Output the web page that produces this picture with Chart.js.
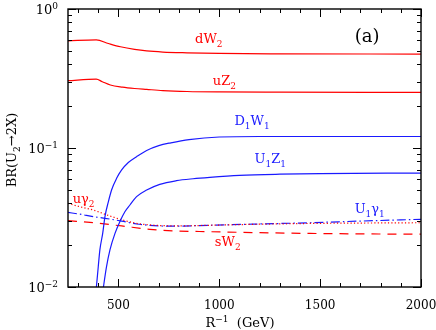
<!DOCTYPE html>
<html>
<head>
<meta charset="utf-8">
<script src="https://cdn.jsdelivr.net/npm/chart.js@4/dist/chart.umd.min.js"></script>
<style>
  html, body { margin: 0; padding: 0; background: #fff; }
  #wrap { width: 436px; height: 330px; }
</style>
</head>
<body>
<div id="wrap"><canvas id="br"></canvas></div>
<script>
// R^-1 (GeV) and BR values
const dW2_x = [250, 390, 450, 510, 580, 640, 720, 840, 1000, 1300, 2000];
const dW2_y = [0.590, 0.600, 0.565, 0.535, 0.512, 0.499, 0.490, 0.484, 0.479, 0.476, 0.474];

const uZ2_x = [250, 390, 420, 460, 520, 580, 640, 720, 840, 1000, 1300, 2000];
const uZ2_y = [0.305, 0.313, 0.300, 0.284, 0.274, 0.268, 0.264, 0.259, 0.255, 0.253, 0.252, 0.251];

const D1W1_x = [388, 400, 408, 422, 433, 450, 466, 491, 516, 549, 590, 640, 700, 760, 850, 1000, 1200, 1500, 2000];
const D1W1_y = [0.009, 0.014, 0.0185, 0.0243, 0.032, 0.041, 0.0499, 0.0605, 0.0695, 0.0786, 0.0866, 0.096, 0.104, 0.109, 0.115, 0.120, 0.121, 0.121, 0.121];

const U1Z1_x = [421, 441, 458, 483, 507, 532, 557, 590, 640, 705, 788, 870, 953, 1100, 1300, 1500, 2000];
const U1Z1_y = [0.009, 0.014, 0.0185, 0.0243, 0.0295, 0.0348, 0.0389, 0.0447, 0.0499, 0.0548, 0.0582, 0.0601, 0.0615, 0.0635, 0.0648, 0.0655, 0.066];

const uy2_x = [250, 309, 375, 433, 490, 540, 590, 650, 700, 800, 950, 1200, 1500, 2000];
const uy2_y = [0.040, 0.0378, 0.0358, 0.0334, 0.0313, 0.0298, 0.0287, 0.0280, 0.0277, 0.0275, 0.0278, 0.0283, 0.0287, 0.029];

const U1y1_x = [250, 309, 375, 433, 516, 590, 705, 790, 950, 1200, 1450, 1700, 2000];
const U1y1_y = [0.0344, 0.0334, 0.0321, 0.0312, 0.0298, 0.0284, 0.0275, 0.0274, 0.0278, 0.0284, 0.029, 0.0298, 0.0307];

const sW2_x = [250, 375, 516, 656, 788, 950, 1200, 1450, 1700, 2000];
const sW2_y = [0.030, 0.029, 0.0275, 0.026, 0.0253, 0.025, 0.0246, 0.0243, 0.0241, 0.024];

// axis ticks
const xTickLabels = [500, 1000, 1500, 2000];
const yTickLabels = [[0.01, '-2'], [0.1, '-1'], [1, '0']];

const RED = '#ff0000';
const BLUE = '#1a1aff';
const FONT = '"DejaVu Serif", "Liberation Serif", serif';

function pts(xs, ys) {
  return xs.map((x, i) => ({ x: x, y: ys[i] }));
}

function line(label, xs, ys, color, dash) {
  return {
    label: label,
    data: pts(xs, ys),
    borderColor: color,
    borderWidth: 1.2,
    borderDash: dash || [],
    pointRadius: 0,
    cubicInterpolationMode: 'monotone',
    clip: 0
  };
}

// curve labels: [x, y, colour, parts]  parts: [text, 0=normal 1=sub 2=sup]
const curveLabels = [
  [880, 0.569, RED, [['dW', 0], ['2', 1]]],
  [968, 0.284, RED, [['uZ', 0], ['2', 1]]],
  [1075, 0.146, BLUE, [['D', 0], ['1', 1], ['W', 0], ['1', 1]]],
  [1175, 0.078, BLUE, [['U', 0], ['1', 1], ['Z', 0], ['1', 1]]],
  [273, 0.0402, RED, [['uγ', 0], ['2', 1]]],
  [978, 0.0197, RED, [['sW', 0], ['2', 1]]],
  [1671, 0.034, BLUE, [['U', 0], ['1', 1], ['γ', 0], ['1', 1]]],
  [1671, 0.575, '#000', [['(a)', 0]]]
];

function rich(ctx, x, y, parts, size) {
  let cx = x;
  parts.forEach(p => {
    const small = p[1] !== 0;
    ctx.font = (small ? Math.round(size * 0.7) : size) + 'px ' + FONT;
    const dy = p[1] === 1 ? size * 0.3 : (p[1] === 2 ? -size * 0.42 : 0);
    ctx.fillText(p[0], cx, y + dy);
    cx += ctx.measureText(p[0]).width;
  });
  return cx - x;
}

function richWidth(ctx, parts, size) {
  let w = 0;
  parts.forEach(p => {
    ctx.font = (p[1] !== 0 ? Math.round(size * 0.7) : size) + 'px ' + FONT;
    w += ctx.measureText(p[0]).width;
  });
  return w;
}

const decor = {
  id: 'decor',
  afterDraw(chart) {
    const { ctx, chartArea: a, scales: { x, y } } = chart;
    ctx.save();
    ctx.strokeStyle = '#000';
    ctx.lineWidth = 1.4;
    ctx.strokeRect(a.left, a.top, a.right - a.left, a.bottom - a.top);

    // inward ticks
    ctx.lineWidth = 1;
    ctx.beginPath();
    for (let v = 300; v <= 2000; v += 100) {
      const px = Math.round(x.getPixelForValue(v)) + 0.5;
      const len = v % 500 === 0 ? 8 : 4;
      ctx.moveTo(px, a.bottom); ctx.lineTo(px, a.bottom - len);
      ctx.moveTo(px, a.top); ctx.lineTo(px, a.top + len);
    }
    [0.01, 0.1].forEach(d => {
      for (let m = 1; m <= 10; m++) {
        const py = Math.round(y.getPixelForValue(d * m)) + 0.5;
        const len = (m === 1 || m === 10) ? 8 : 4;
        ctx.moveTo(a.left, py); ctx.lineTo(a.left + len, py);
        ctx.moveTo(a.right, py); ctx.lineTo(a.right - len, py);
      }
    });
    ctx.stroke();

    ctx.fillStyle = '#000';
    ctx.textBaseline = 'alphabetic';
    // y tick labels 10^n
    yTickLabels.forEach(t => {
      const py = y.getPixelForValue(t[0]);
      const parts = [['10', 0], [t[1].replace('-', '\u2212'), 2]];
      const w = richWidth(ctx, parts, 13);
      rich(ctx, a.left - 10 - w, py + 5, parts, 13);
    });

    // axis titles
    const xt = [['R', 0], ['\u22121', 2], ['  (GeV)', 0]];
    const xw = richWidth(ctx, xt, 13);
    rich(ctx, 240 - xw / 2, 327, xt, 13);

    ctx.save();
    ctx.translate(16, 150);
    ctx.rotate(-Math.PI / 2);
    const yt = [['BR(U', 0], ['2', 1], ['\u21922X)', 0]];
    const yw = richWidth(ctx, yt, 13);
    rich(ctx, -yw / 2, 0, yt, 13);
    ctx.restore();

    // curve labels
    curveLabels.forEach(l => {
      ctx.fillStyle = l[2];
      rich(ctx, x.getPixelForValue(l[0]), y.getPixelForValue(l[1]), l[3], l[2] === '#000' ? 18 : 13);
    });
    ctx.restore();
  }
};

new Chart(document.getElementById('br'), {
  type: 'line',
  data: {
    datasets: [
      line('dW2', dW2_x, dW2_y, RED),
      line('uZ2', uZ2_x, uZ2_y, RED),
      line('D1W1', D1W1_x, D1W1_y, BLUE),
      line('U1Z1', U1Z1_x, U1Z1_y, BLUE),
      line('uy2', uy2_x, uy2_y, RED, [1.2, 2.2]),
      line('U1y1', U1y1_x, U1y1_y, BLUE, [9, 3, 1.5, 3]),
      line('sW2', sW2_x, sW2_y, RED, [9, 7])
    ]
  },
  options: {
    responsive: true,
    maintainAspectRatio: false,
    animation: false,
    layout: { padding: { left: 0, right: 15, top: 9, bottom: 0 } },
    plugins: { legend: { display: false }, tooltip: { enabled: false } },
    scales: {
      x: {
        type: 'linear',
        min: 250,
        max: 2000,
        grid: { display: false },
        border: { display: false },
        ticks: {
          stepSize: 100,
          autoSkip: false,
          maxRotation: 0,
          padding: 4,
          color: '#000',
          font: { family: FONT, size: 12 },
          callback: v => xTickLabels.includes(v) ? String(v) : ''
        },
        afterFit: s => { s.height = 43; s.paddingLeft = 0; s.paddingRight = 0; }
      },
      y: {
        type: 'logarithmic',
        min: 0.01,
        max: 1,
        grid: { display: false },
        border: { display: false },
        ticks: { display: false },
        afterFit: s => { s.width = 68; s.paddingTop = 0; s.paddingBottom = 0; }
      }
    }
  },
  plugins: [decor]
});
</script>
</body>
</html>
